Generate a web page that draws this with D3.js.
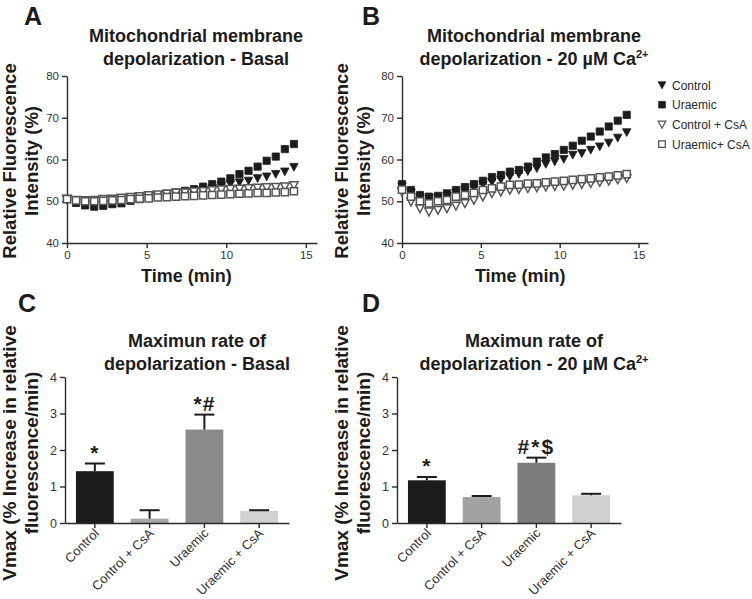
<!DOCTYPE html>
<html><head><meta charset="utf-8">
<script src="https://cdn.jsdelivr.net/npm/d3@7"></script>
<style>
body{margin:0;background:#fff;}
svg{display:block;font-family:"Liberation Sans",Arial,sans-serif;}
</style></head><body>
<svg id="chart" width="752" height="599"></svg>
<script>
// ---- data ----
const times = [0, 0.57, 1.14, 1.71, 2.28, 2.85, 3.42, 3.99, 4.56, 5.13, 5.7, 6.27, 6.84, 7.41, 7.98, 8.55, 9.12, 9.69, 10.26, 10.83, 11.4, 11.97, 12.54, 13.11, 13.68, 14.25];

const controlA     = [50.3, 49.7, 49.3, 49.1, 49.3, 49.6, 49.9, 50.3, 50.6, 50.9, 51.2, 51.5, 51.8, 52.1, 52.4, 52.7, 53.1, 53.7, 54.1, 54.5, 54.9, 55.5, 55.9, 56.5, 57.1, 58.2];
const uraemicA     = [50.5, 49.6, 49.0, 48.7, 48.9, 49.3, 49.5, 50.1, 50.5, 50.9, 51.3, 51.8, 52.1, 52.5, 52.9, 53.5, 54.1, 54.7, 55.5, 56.5, 57.3, 58.3, 59.7, 60.7, 62.5, 63.7];
const controlCsaA  = [50.6, 50.3, 50.2, 50.3, 50.5, 50.6, 50.8, 51.0, 51.2, 51.4, 51.6, 51.8, 52.0, 52.1, 52.3, 52.4, 52.6, 52.8, 52.9, 53.0, 53.1, 53.2, 53.3, 53.4, 53.5, 53.8];
const uraemicCsaA  = [50.5, 50.2, 50.0, 50.0, 50.1, 50.2, 50.3, 50.5, 50.6, 50.7, 50.9, 51.0, 51.1, 51.2, 51.3, 51.4, 51.5, 51.6, 51.7, 51.8, 51.9, 52.0, 52.0, 52.1, 52.2, 52.4];

const controlB     = [53.5, 52.0, 51.0, 50.6, 50.8, 51.3, 52.0, 52.6, 53.3, 54.0, 54.6, 55.2, 55.9, 56.5, 57.2, 57.9, 58.9, 59.5, 60.1, 61.1, 61.5, 62.3, 63.1, 64.0, 65.2, 66.5];
const uraemicB     = [54.1, 52.7, 51.5, 51.1, 51.3, 51.9, 52.7, 53.4, 54.1, 54.9, 55.8, 56.3, 57.1, 57.5, 58.3, 59.5, 60.5, 61.3, 62.3, 63.3, 64.5, 65.5, 66.7, 67.9, 69.3, 70.7];
const controlCsaB  = [52.3, 49.9, 48.3, 47.5, 47.9, 48.3, 48.9, 49.5, 50.3, 51.1, 51.9, 52.3, 52.7, 52.9, 53.1, 53.3, 53.5, 53.6, 53.7, 53.9, 54.1, 54.3, 54.6, 54.9, 55.2, 55.5];
const uraemicCsaB  = [52.8, 51.1, 50.0, 49.5, 50.0, 50.3, 51.1, 51.5, 52.0, 52.7, 53.1, 53.5, 53.9, 54.0, 54.2, 54.3, 54.5, 54.7, 54.9, 55.1, 55.3, 55.5, 55.7, 55.9, 56.2, 56.5];

const seriesNames = ["Control", "Uraemic", "Control + CsA", "Uraemic+ CsA"];
const lineYTicks = [40, 50, 60, 70, 80];
const lineXTicks = [0, 5, 10, 15];

const barCategories = ["Control", "Control + CsA", "Uraemic", "Uraemic + CsA"];
const basalMeans = [1.42, 0.12, 2.56, 0.33];
const basalSEM   = [0.21, 0.23, 0.41, 0.02];
const caMeans    = [1.17, 0.71, 1.65, 0.76];
const caSEM      = [0.09, 0.03, 0.14, 0.04];
const basalMarks = ["*", "", "*#", ""];
const caMarks    = ["*", "", "#*$", ""];
const barYTicks = [0, 1, 2, 3, 4];

// ---- styles ----
const INK = "#1c1c1c";
const AXIS = "#2a2a2a";
const basalColors = ["#1c1c1c", "#a8a8a8", "#8a8a8a", "#d2d2d2"];
const caColors    = ["#1c1c1c", "#a2a2a2", "#7c7c7c", "#d0d0d0"];
const markerStyle = [
  {shape: "tri", fill: INK, stroke: INK},
  {shape: "sq", fill: INK, stroke: INK},
  {shape: "tri", fill: "#fff", stroke: "#555"},
  {shape: "sq", fill: "#fff", stroke: "#555"}
];
const paths = {
  tri: "M-4.2,-3.6L4.2,-3.6L0,4.2Z",
  sq: "M-3.6,-3.6h7.2v7.2h-7.2Z",
  triL: "M-3.8,-3.2L3.8,-3.2L0,3.8Z",
  sqL: "M-3.3,-3.3h6.6v6.6h-6.6Z"
};
const TITLE_FS = 18;

const svg = d3.select("#chart");
svg.append("rect").attr("width", 752).attr("height", 599).attr("fill", "#fff");

function styleAxis(g, fs) {
  g.selectAll("path,line").attr("stroke", AXIS).attr("stroke-width", 1.4);
  g.selectAll("text").attr("fill", "#333").style("font-size", fs + "px")
    .style("font-family", '"Liberation Sans",Arial,sans-serif');
}

function title(x, y, lines) {
  lines.forEach((ln, i) => {
    const t = svg.append("text").attr("x", x).attr("y", y + i * 23)
      .attr("text-anchor", "middle").attr("font-weight", "bold")
      .attr("font-size", TITLE_FS).attr("fill", INK);
    ln.forEach(part => {
      const ts = t.append("tspan").text(part.t);
      if (part.sup) ts.attr("font-size", 11).attr("dy", -7);
    });
  });
}

function yTitle(xBase, cy, lines, fs) {
  lines.forEach((ln, i) => {
    svg.append("text")
      .attr("transform", `translate(${xBase + i * 22},${cy}) rotate(-90)`)
      .attr("text-anchor", "middle").attr("font-weight", "bold")
      .attr("font-size", fs).attr("fill", INK).text(ln);
  });
}

function panelLetter(x, y, l) {
  svg.append("text").attr("x", x).attr("y", y).attr("font-weight", "bold")
    .attr("font-size", 25).attr("fill", INK).text(l);
}

// ---- line/scatter panels ----
function scatterPanel(x0, x1, xMax, datasets) {
  const x = d3.scaleLinear().domain([0, xMax]).range([x0, x1]);
  const y = d3.scaleLinear().domain([40, 80]).range([243, 76]);
  const gx = svg.append("g").attr("transform", "translate(0,243)")
    .call(d3.axisBottom(x).tickValues(lineXTicks).tickSize(5).tickSizeOuter(0).tickPadding(3));
  styleAxis(gx, 11.5);
  const gy = svg.append("g").attr("transform", `translate(${x0},0)`)
    .call(d3.axisLeft(y).tickValues(lineYTicks).tickSize(5).tickSizeOuter(0).tickPadding(3));
  styleAxis(gy, 11.5);
  datasets.forEach((vals, si) => {
    const st = markerStyle[si];
    svg.append("g").selectAll("path").data(vals).join("path")
      .attr("transform", (d, i) => `translate(${x(times[i])},${y(d)})`)
      .attr("d", paths[st.shape])
      .attr("fill", st.fill).attr("stroke", st.stroke)
      .attr("stroke-width", st.fill === "#fff" ? 1.5 : 0.8);
  });
  svg.append("text").attr("x", (x(0) + x(15)) / 2).attr("y", 282)
    .attr("text-anchor", "middle").attr("font-weight", "bold")
    .attr("font-size", TITLE_FS).attr("fill", INK).text("Time (min)");
}

scatterPanel(67, 317, 15.7, [controlA, uraemicA, controlCsaA, uraemicCsaA]);
scatterPanel(402, 648, 15.6, [controlB, uraemicB, controlCsaB, uraemicCsaB]);

// legend
seriesNames.forEach((n, i) => {
  const ly = 85 + i * 19.7;
  const st = markerStyle[i];
  svg.append("path").attr("transform", `translate(662,${ly})`)
    .attr("d", paths[st.shape + "L"]).attr("fill", st.fill).attr("stroke", st.stroke)
    .attr("stroke-width", st.fill === "#fff" ? 1.3 : 0.8);
  svg.append("text").attr("x", 672).attr("y", ly + 4.5).attr("font-size", 12)
    .attr("fill", "#2a2a2a").text(n);
});

// ---- bar panels ----
function barPanel(x0, means, sems, colors, marks) {
  const x = d3.scaleBand().domain(barCategories).range([x0, x0 + 224])
    .paddingInner(0.31).paddingOuter(0.2);
  const y = d3.scaleLinear().domain([0, 4]).range([523, 377]);
  const data = barCategories.map((c, i) => ({c, m: means[i], s: sems[i], col: colors[i], mk: marks[i]}));
  const g = svg.append("g");
  g.selectAll("rect").data(data).join("rect")
    .attr("x", d => x(d.c)).attr("width", x.bandwidth())
    .attr("y", d => y(d.m)).attr("height", d => y(0) - y(d.m))
    .attr("fill", d => d.col);
  // error bars
  data.forEach(d => {
    const cx = x(d.c) + x.bandwidth() / 2;
    g.append("line").attr("x1", cx).attr("x2", cx).attr("y1", y(d.m)).attr("y2", y(d.m + d.s))
      .attr("stroke", INK).attr("stroke-width", 2);
    g.append("line").attr("x1", cx - 10).attr("x2", cx + 10).attr("y1", y(d.m + d.s)).attr("y2", y(d.m + d.s))
      .attr("stroke", INK).attr("stroke-width", 2);
    if (d.mk) {
      g.append("text").attr("x", cx).attr("y", y(d.m + d.s) - 4)
        .attr("text-anchor", "middle").attr("font-weight", "bold").attr("font-size", 21)
        .attr("letter-spacing", d.mk.length > 2 ? 2 : 1)
        .attr("fill", INK).text(d.mk);
    }
  });
  const gx = svg.append("g").attr("transform", "translate(0,523)")
    .call(d3.axisBottom(x).tickSize(5).tickSizeOuter(0));
  styleAxis(gx, 13);
  gx.selectAll(".tick text").attr("text-anchor", "end").attr("dy", null)
    .attr("y", 0).attr("x", 0)
    .attr("transform", "translate(5,11) rotate(-45)");
  const gy = svg.append("g").attr("transform", `translate(${x0},0)`)
    .call(d3.axisLeft(y).tickValues(barYTicks).tickFormat(d3.format("d")).tickSize(5).tickSizeOuter(0).tickPadding(3));
  styleAxis(gy, 12.5);
}

barPanel(65, basalMeans, basalSEM, basalColors, basalMarks);
barPanel(397, caMeans, caSEM, caColors, caMarks);

// ---- texts ----
panelLetter(24, 25, "A");
panelLetter(362, 25, "B");
panelLetter(18, 312, "C");
panelLetter(362, 312, "D");

title(196, 42, [[{t: "Mitochondrial membrane"}], [{t: "depolarization - Basal"}]]);
title(534, 42, [[{t: "Mitochondrial membrane"}], [{t: "depolarization - 20 µM Ca"}, {t: "2+", sup: true}]]);
title(197, 347, [[{t: "Maximun rate of"}], [{t: "depolarization - Basal"}]]);
title(534, 347, [[{t: "Maximun rate of"}], [{t: "depolarization - 20 µM Ca"}, {t: "2+", sup: true}]]);

yTitle(16, 161, ["Relative Fluorescence", "Intensity (%)"], 18.5);
yTitle(348, 161, ["Relative Fluorescence", "Intensity (%)"], 18.5);
yTitle(16, 453, ["Vmax (% Increase in relative", "fluorescence/min)"], 19);
yTitle(348, 453, ["Vmax (% Increase in relative", "fluorescence/min)"], 19);
</script>
</body></html>
